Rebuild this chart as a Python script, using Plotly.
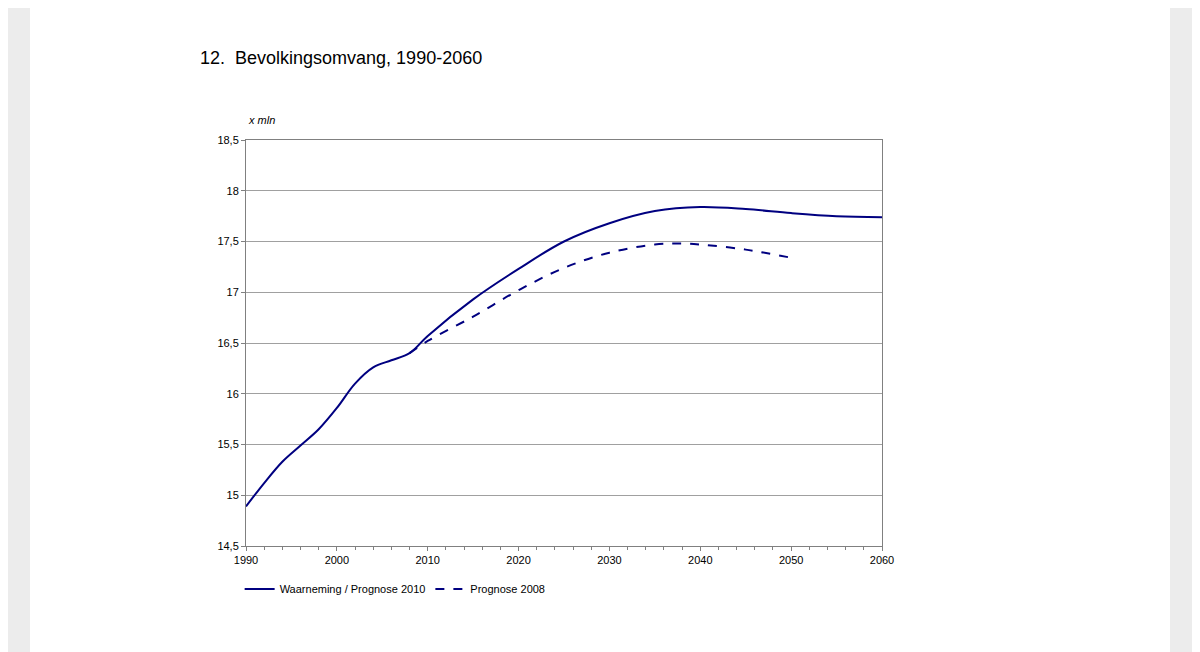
import plotly.graph_objects as go

years_obs = [1990,1992,1994,1996,1998,2000,2002,2004,2006,2008,2010,2015,2020,2025,2030,2035,2040,2045,2050,2055,2060]
vals_obs = [14.89,15.12,15.33,15.49,15.65,15.86,16.1,16.26,16.33,16.4,16.57,16.93,17.23,17.5,17.68,17.8,17.84,17.82,17.78,17.75,17.74]
years_08 = [2008,2010,2015,2020,2025,2030,2035,2038,2040,2045,2050]
vals_08 = [16.4,16.52,16.76,17.02,17.24,17.39,17.47,17.48,17.47,17.42,17.34]
yticks = [14.5,15,15.5,16,16.5,17,17.5,18,18.5]
ylabels = ["14,5","15","15,5","16","16,5","17","17,5","18","18,5"]
xticks = [1990,2000,2010,2020,2030,2040,2050,2060]

navy = "#000080"
fig = go.Figure()
fig.add_trace(go.Scatter(x=years_obs, y=vals_obs, mode="lines", name="Waarneming / Prognose 2010",
                         line=dict(color=navy, width=2, shape="spline")))
fig.add_trace(go.Scatter(x=years_08, y=vals_08, mode="lines", name="Prognose 2008",
                         line=dict(color=navy, width=2, dash="dash", shape="spline")))
ax = dict(showline=True, linecolor="#808080", linewidth=1, mirror=True, zeroline=False)
fig.update_xaxes(range=[1990,2060], tickvals=xticks, showgrid=False, ticks="outside",
                 ticklen=4, tickcolor="#808080",
                 minor=dict(dtick=2, ticks="outside", ticklen=3, tickcolor="#808080"), **ax)
fig.update_yaxes(range=[14.5,18.5], tickvals=yticks, ticktext=ylabels, showgrid=True,
                 gridcolor="#a0a0a0", ticks="outside", ticklen=4, tickcolor="#808080", **ax)
fig.update_layout(
    width=1200, height=652, paper_bgcolor="white", plot_bgcolor="white",
    margin=dict(l=238, r=326, t=132, b=114),
    font=dict(family="Liberation Sans, Arial", size=11, color="black"),
    showlegend=True,
    legend=dict(orientation="h", x=-0.01, y=-0.07, xanchor="left", yanchor="top", font=dict(size=11)),
    shapes=[
        dict(type="rect", xref="paper", yref="paper", x0=-246/636, x1=-216/636, y0=-130/406, y1=1+140/406,
             fillcolor="#ececec", line=dict(width=0), layer="below"),
        dict(type="rect", xref="paper", yref="paper", x0=1+288/636, x1=1+340/636, y0=-130/406, y1=1+140/406,
             fillcolor="#ececec", line=dict(width=0), layer="below"),
    ],
    annotations=[
        dict(text="12.  Bevolkingsomvang, 1990-2060", xref="paper", yref="paper",
             x=-48/636, y=1+82/406, xanchor="left", yanchor="middle", showarrow=False, font=dict(size=18)),
        dict(text="<i>x mln</i>", xref="paper", yref="paper", x=0, y=1+20/406,
             xanchor="left", yanchor="middle", showarrow=False, font=dict(size=11)),
    ],
)
fig.write_html("out.html")
